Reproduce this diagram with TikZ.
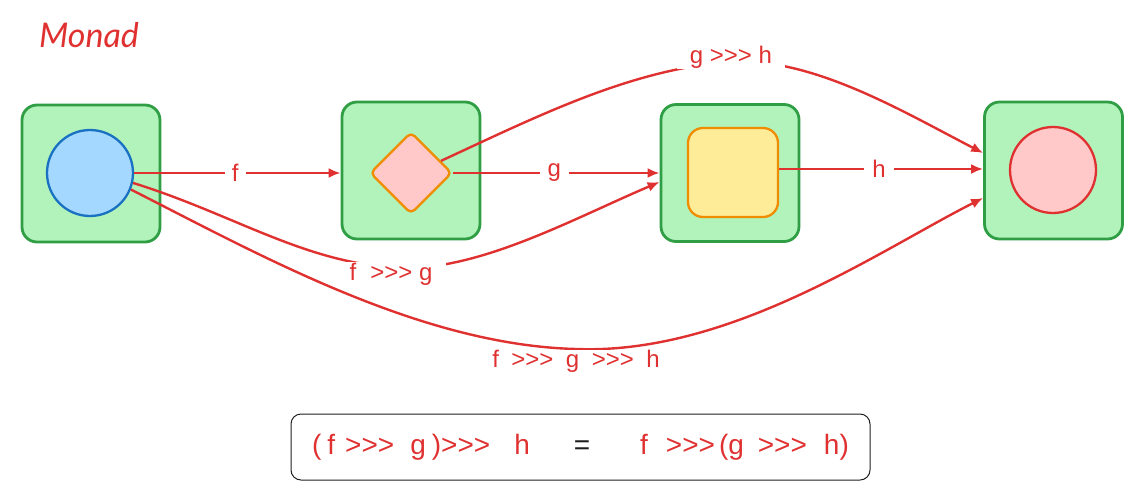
\documentclass[tikz,border=0pt]{standalone}
\usepackage{fontspec}
\setmainfont{Liberation Sans}[Ligatures=TeXOff]
\newfontfamily\handfont{Lato}
\usetikzlibrary{arrows.meta,shapes.geometric}
\definecolor{gfill}{HTML}{B2F2BB}
\definecolor{gline}{HTML}{2F9E44}
\definecolor{bfill}{HTML}{A5D8FF}
\definecolor{bline}{HTML}{1971C2}
\definecolor{pfill}{HTML}{FFC9C9}
\definecolor{oline}{HTML}{F08C00}
\definecolor{yfill}{HTML}{FFEC99}
\definecolor{rline}{HTML}{E03131}
\definecolor{kline}{HTML}{1E1E1E}
\begin{document}
\begin{tikzpicture}[x=1pt,y=-1pt,
  box/.style={draw=gline, fill=gfill, line width=2.8pt, rounded corners=15pt,
    minimum width=138pt, minimum height=137pt, inner sep=0pt},
  circ/.style={circle, line width=2.3pt, minimum size=86pt, inner sep=0pt},
  arr/.style={draw=rline, line width=2.4pt, -{Latex[length=12pt,width=10pt]}},
  lbl/.style={fill=white, text=rline, font=\fontsize{24}{28}\selectfont, inner ysep=1pt}
]
\useasboundingbox (0,0) rectangle (1137,499);

\node[text=rline, font=\handfont\itshape\fontsize{34}{38}\selectfont] (title) at (89,35) {Monad};

\node[box] (b1) at (91,173.5) {};
\node[box] (b2) at (411,170.5) {};
\node[box] (b3) at (730,173) {};
\node[box] (b4) at (1053.5,170.5) {};

\node[circ, draw=bline, fill=bfill] (c) at (90,173) {};
\node[diamond, aspect=1, draw=oline, fill=pfill, line width=2.3pt, minimum size=82pt,
  inner sep=0pt, rounded corners=5pt] (d) at (411,173) {};
\node[draw=oline, fill=yfill, line width=2.3pt, minimum width=90pt, minimum height=89pt,
  inner sep=0pt, rounded corners=15pt] (s) at (733,172.5) {};
\node[circ, draw=rline, fill=pfill] (e) at (1053,170) {};

% straight arrows
\coordinate (sh) at ([yshift=3.5pt]s.east);
\draw[arr] (c.east) -- (b2.west |- c.east) node[lbl, pos=0.49, inner xsep=7pt] (lf) {f};
\draw[arr] (d.east) -- (b3.west |- d.east) node[lbl, pos=0.49, inner xsep=8pt] (lg) {g};
\draw[arr] (sh) -- (b4.west |- sh) node[lbl, pos=0.49, inner xsep=8pt] (lh) {h};

% curved arrows
\coordinate (m1) at (388,267);
\coordinate (m2) at (728,62);
\coordinate (m3) at (576,349);
\draw[arr] (c.-13) .. controls (230,213) and (300,260) .. (m1)
  .. controls (470,276) and (570,220) .. ([yshift=-9pt]b3.west);
\draw[arr] (d.22) .. controls (540,115) and (630,70) .. (m2)
  .. controls (810,56) and (900,110) .. ([yshift=17.5pt]b4.west);
\draw[arr] (c.-22.5) .. controls (260,255) and (420,345) .. (m3)
  .. controls (730,355) and (880,250) .. ([yshift=-27.5pt]b4.west);

\node[lbl, inner xsep=14pt] (l1) at (391,274) {f\hspace{14pt}>>> g};
\node[lbl, inner xsep=13pt] (l2) at (731,57) {g >>> h};
\node[lbl, inner xsep=2pt, inner ysep=0pt] (l3) at (576,361) {f\hspace{12.5pt}>>>\hspace{12.5pt}g\hspace{12.5pt}>>>\hspace{12.5pt}h};

% equation box
\node[draw=kline, line width=1pt, rounded corners=10pt, minimum width=579pt,
  minimum height=66pt, inner sep=0pt, text=rline, font=\fontsize{28}{32}\selectfont] (eq) at (580.5,447)
  {(\hspace{6pt}f\hspace{10pt}>>>\hspace{16pt}g\hspace{6pt})>>>\hspace{24pt}h\hspace{44pt}\textcolor{kline}{=}\hspace{50pt}f\hspace{18pt}>>>\hspace{4pt}(g\hspace{14pt}>>>\hspace{17pt}h)};
\end{tikzpicture}
\end{document}
